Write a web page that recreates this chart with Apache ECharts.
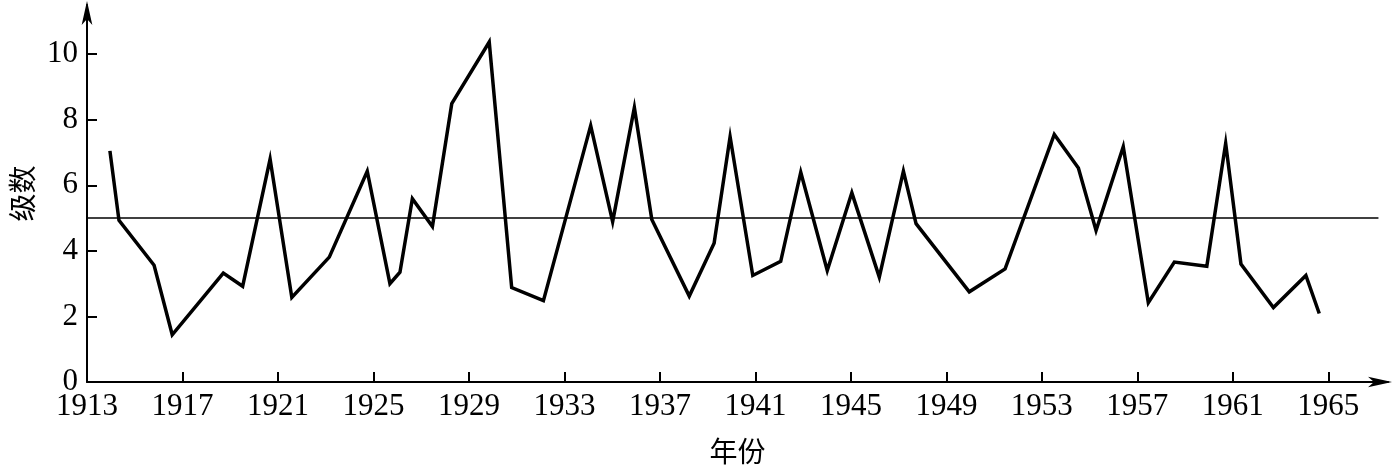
<!DOCTYPE html>
<html>
<head>
<meta charset="utf-8">
<script src="https://cdn.jsdelivr.net/npm/echarts@6/dist/echarts.min.js"></script>
<style>
  html, body { margin: 0; padding: 0; background: #fff; }
  #chart { width: 1393px; height: 470px; }
</style>
</head>
<body>
<div id="chart"></div>
<script>
// years (fractional, the points are not evenly spaced) and levels
const years = [
  1913.96, 1914.34, 1915.81, 1916.57, 1918.71, 1919.52, 1920.67, 1921.58, 1923.15, 1924.74,
  1925.69, 1926.11, 1926.63, 1927.47, 1928.28, 1929.85, 1930.79, 1932.12, 1934.10, 1935.02,
  1935.93, 1936.66, 1938.23, 1939.27, 1939.94, 1940.89, 1942.06, 1942.90, 1944.01, 1945.04,
  1946.19, 1947.20, 1947.73, 1949.96, 1951.46, 1953.52, 1954.53, 1955.27, 1956.41, 1957.46,
  1958.55, 1959.91, 1960.70, 1961.34, 1962.70, 1964.06, 1964.62
];
const levels = [
  7.05, 4.93, 3.56, 1.44, 3.32, 2.92, 6.80, 2.58, 3.81, 6.43,
  3.00, 3.35, 5.59, 4.74, 8.49, 10.37, 2.88, 2.48, 7.82, 4.89,
  8.37, 4.96, 2.62, 4.23, 7.48, 3.25, 3.68, 6.40, 3.40, 5.77,
  3.20, 6.43, 4.83, 2.75, 3.45, 7.55, 6.53, 4.62, 7.18, 2.42,
  3.66, 3.53, 7.28, 3.60, 2.27, 3.25, 2.09
];
const yearTicks = [1913, 1917, 1921, 1925, 1929, 1933, 1937, 1941, 1945, 1949, 1953, 1957, 1961, 1965];
const levelTicks = [0, 2, 4, 6, 8, 10];
const baseYear = 1913;
const lastYear = 1967.5;
const maxLevel = 11.5;
const refLevel = 5;
const refLineEnd = 1967.1;

const chart = echarts.init(document.getElementById('chart'));
const serif = 'Liberation Serif';
const cjk = 'Noto Sans CJK SC';

const option = {
  backgroundColor: '#fff',
  animation: false,
  grid: { left: 87, right: 5, top: 5, bottom: 84 },
  xAxis: {
    type: 'value',
    min: 0,
    max: lastYear - baseYear,
    name: '年份',
    nameLocation: 'middle',
    nameGap: 55,
    nameTextStyle: { fontFamily: cjk, fontSize: 28, color: '#000' },
    axisLine: {
      lineStyle: { color: '#000', width: 2 },
      symbol: ['none', 'arrow'],
      symbolSize: [8, 24],
      symbolOffset: [0, 4]
    },
    axisTick: {
      inside: true,
      length: 10,
      lineStyle: { color: '#000', width: 2 },
      customValues: yearTicks.map(y => y - baseYear)
    },
    axisLabel: {
      color: '#000',
      fontFamily: serif,
      fontSize: 31,
      margin: 9,
      customValues: yearTicks.map(y => y - baseYear),
      formatter: v => String(Math.round(v + baseYear))
    },
    splitLine: { show: false }
  },
  yAxis: {
    type: 'value',
    min: 0,
    max: maxLevel,
    name: '级数',
    nameLocation: 'middle',
    nameGap: 50,
    nameRotate: 90,
    nameTextStyle: { fontFamily: cjk, fontSize: 28, color: '#000' },
    axisLine: {
      show: true,
      lineStyle: { color: '#000', width: 2 },
      symbol: ['none', 'arrow'],
      symbolSize: [8, 24],
      symbolOffset: [0, 4]
    },
    axisTick: {
      show: true,
      inside: true,
      length: 10,
      lineStyle: { color: '#000', width: 2 },
      customValues: levelTicks
    },
    axisLabel: {
      color: '#000',
      fontFamily: serif,
      fontSize: 31,
      margin: 9,
      customValues: levelTicks
    },
    splitLine: { show: false }
  },
  series: [{
    type: 'line',
    data: years.map((y, i) => [y - baseYear, levels[i]]),
    showSymbol: false,
    symbol: 'none',
    lineStyle: { color: '#000', width: 3.5, join: 'miter' },
    markLine: {
      silent: true,
      symbol: 'none',
      label: { show: false },
      lineStyle: { color: '#000', width: 1.5, type: 'solid' },
      data: [[{ coord: [0, refLevel] }, { coord: [refLineEnd - baseYear, refLevel] }]]
    }
  }]
};
chart.setOption(option);
</script>
</body>
</html>
